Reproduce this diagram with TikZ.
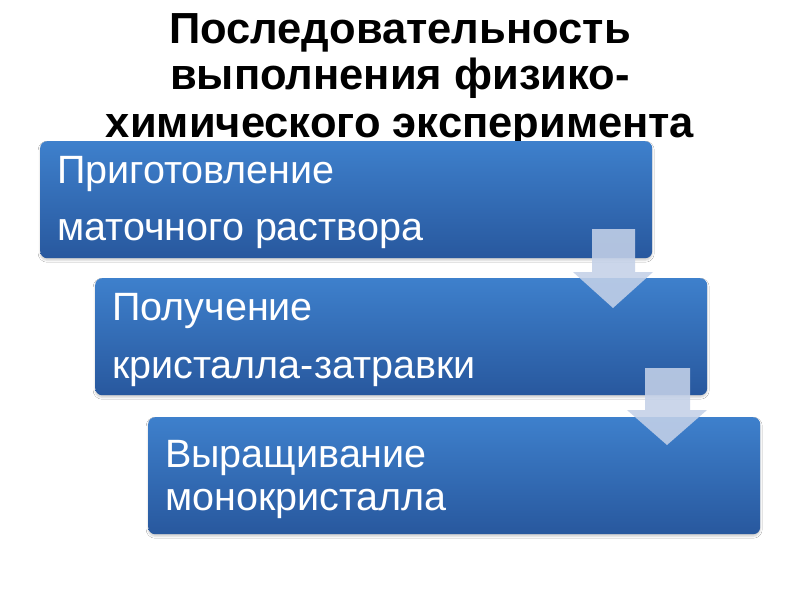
\documentclass[tikz,border=0pt]{standalone}
\usepackage{fontspec}
\setmainfont{Liberation Sans}
\usetikzlibrary{shadows.blur}
\definecolor{boxtop}{RGB}{62,128,204}
\definecolor{boxbot}{RGB}{40,88,158}
\definecolor{arrowfill}{RGB}{196,209,232}
\tikzset{
  x=1pt, y=-1pt,
  stagebox/.style={rectangle, rounded corners=7pt, draw=none, top color=boxtop, bottom color=boxbot,
    minimum width=612pt, minimum height=117pt, anchor=north west, inner sep=0pt,
    blur shadow={shadow xshift=0pt, shadow yshift=-2pt, shadow blur steps=4, shadow opacity=20, shadow blur radius=2pt}},
  stagetext/.style={anchor=base west, inner sep=0pt, text=white, font=\fontsize{39.5}{46}\selectfont},
  titletext/.style={anchor=base, inner sep=0pt, text=black, font=\fontsize{43.5}{48}\selectfont\bfseries},
  blockarrow/.style={fill=arrowfill, fill opacity=0.88, draw=none}
}
\begin{document}
\begin{tikzpicture}
\useasboundingbox[fill=white] (0,0) rectangle (800,600);
\node[titletext] (t1) at (400,43) {Последовательность};
\node[titletext] (t2) at (400,89) {выполнения физико-};
\node[titletext] (t3) at (400,137) {химического эксперимента};

\node[stagebox] (b1) at (40,141) {};
\node[stagebox] (b2) at (95,278) {};
\node[stagebox] (b3) at (148,417) {};

\node[stagetext] (l11) at (57,183) {Приготовление};
\node[stagetext] (l12) at (57,240) {маточного раствора};
\node[stagetext] (l21) at (112,320) {Получение};
\node[stagetext] (l22) at (112,378) {кристалла-затравки};
\node[stagetext] (l31) at (165,467) {Выращивание};
\node[stagetext] (l32) at (165,510) {монокристалла};

\fill[blockarrow] (592,229) -- (635,229) -- (635,272) -- (653,272) -- (613,308) -- (573,272) -- (592,272) -- cycle;
\fill[blockarrow] (645,368) -- (690,368) -- (690,410) -- (707,410) -- (667,445) -- (627,410) -- (645,410) -- cycle;
\end{tikzpicture}
\end{document}
